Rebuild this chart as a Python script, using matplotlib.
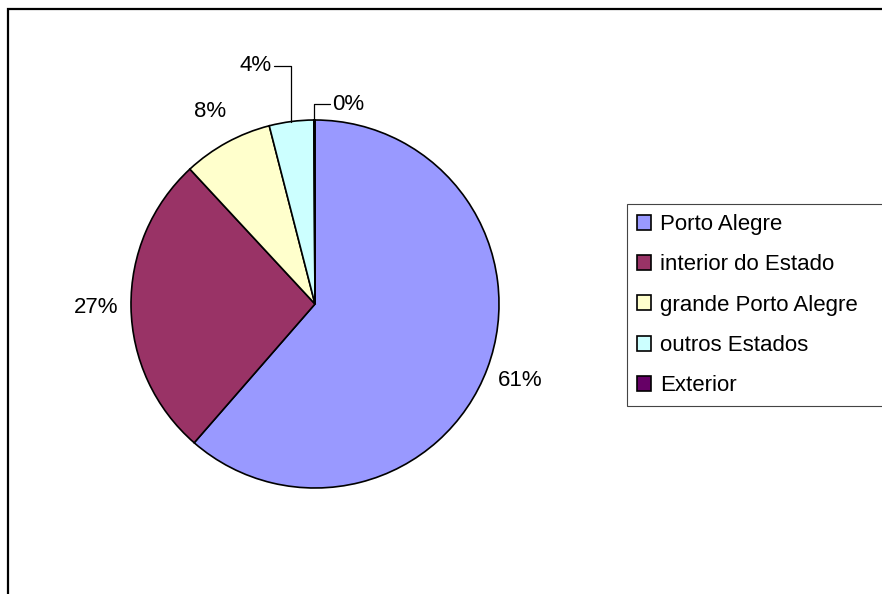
import numpy as np
import matplotlib
matplotlib.use("Agg")
import matplotlib.pyplot as plt
from matplotlib.patches import Rectangle

plt.rcParams['font.family'] = ['Liberation Sans', 'DejaVu Sans']

# data
names = ["Porto Alegre", "interior do Estado", "grande Porto Alegre", "outros Estados", "Exterior"]
values = [61.4, 26.7, 7.9, 3.9, 0.1]
colors = ["#9999FF", "#993366", "#FFFFCC", "#CCFFFF", "#660066"]

W, H = 882, 594
fig = plt.figure(figsize=(W / 100, H / 100), dpi=100)
ax = fig.add_axes([0, 0, 1, 1])

cx, cy, r = 315, H - 304, 184
wedges, _ = ax.pie(values, colors=colors, startangle=90, counterclock=False,
                   center=(cx, cy), radius=r,
                   wedgeprops=dict(edgecolor='black', linewidth=1.2))
ax.set_xlim(0, W)
ax.set_ylim(0, H)
ax.set_aspect('equal')
ax.axis('off')

pct = np.array(values) / np.sum(values) * 100
fs = 16

# labels outside the pie
for i, w in enumerate(wedges):
    theta = np.deg2rad((w.theta1 + w.theta2) / 2)
    label = "%d%%" % round(pct[i])
    ex, ey = cx + r * np.cos(theta), cy + r * np.sin(theta)
    if i < 3:
        ax.text(cx + 1.19 * r * np.cos(theta), cy + 1.19 * r * np.sin(theta), label,
                ha='center', va='center', fontsize=fs)
    else:
        off = (-36, 56) if i == 3 else (34, 16)
        ax.annotate(label, xy=(ex, ey), xytext=off, textcoords='offset pixels',
                    ha='center', va='center', fontsize=fs,
                    arrowprops=dict(arrowstyle='-', color='black', lw=0.9,
                                    shrinkA=0, shrinkB=0,
                                    connectionstyle="angle,angleA=0,angleB=90,rad=0"))

leg_top = 1 - 204 / H
leg = ax.legend(wedges, names, loc='upper left', mode='expand',
                bbox_to_anchor=(627 / W, leg_top - 0.5, (900 - 627) / W, 0.5),
                bbox_transform=fig.transFigure,
                borderaxespad=0, fontsize=fs, frameon=True, fancybox=False,
                edgecolor='#444444', framealpha=1, handlelength=0.65, handleheight=0.65,
                handletextpad=0.4, labelspacing=0.87, borderpad=0.45)
leg.get_frame().set_linewidth(0.8)

# outer chart border (cut off at right and bottom)
fig.add_artist(Rectangle((8 / W, -0.1), 2, (H - 9) / H + 0.1, transform=fig.transFigure,
                         fill=False, edgecolor='black', linewidth=1.6))

fig.savefig("out.png", dpi=100)
